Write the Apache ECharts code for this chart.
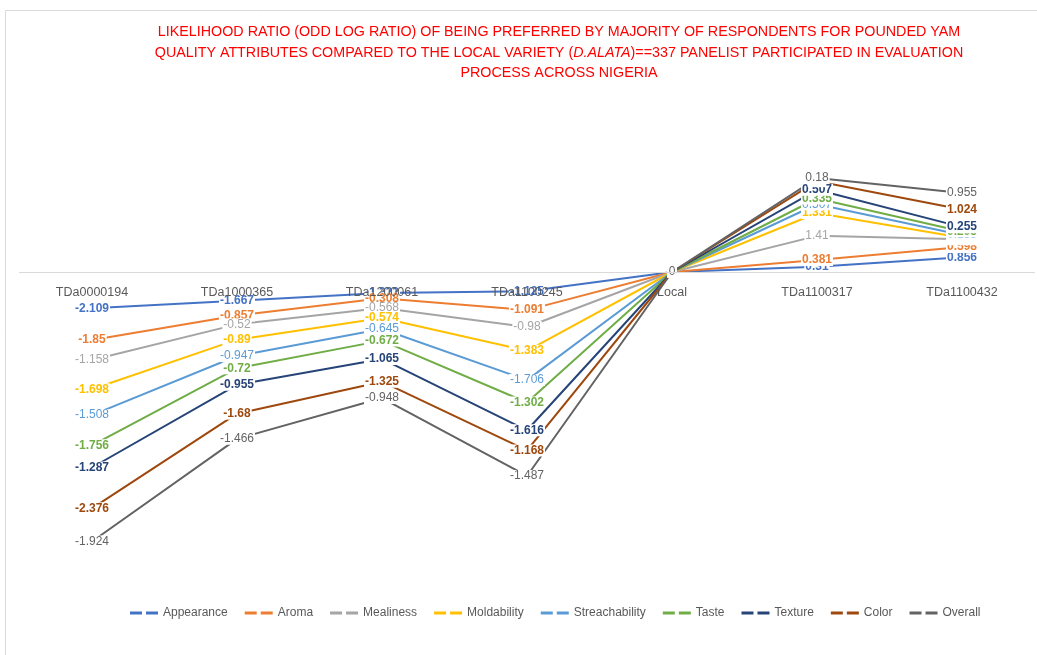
<!DOCTYPE html>
<html><head><meta charset="utf-8">
<script src="https://cdn.jsdelivr.net/npm/echarts@6/dist/echarts.min.js"></script>
<style>html,body{margin:0;padding:0;background:#fff}#c{width:1037px;height:655px}</style>
</head><body><div id="c"></div>
<script>
var categories = ['TDa0000194','TDa1000365','TDa1200061','TDa1100245','Local','TDa1100317','TDa1100432'];
var appearance     = [-2.109, -1.667, -1.222, -1.125, 0, 0.31,  0.856];
var aroma          = [-1.85,  -0.857, -0.308, -1.091, 0, 0.381, 0.598];
var mealiness      = [-1.158, -0.52,  -0.568, -0.98,  0, 1.41,  0.455];
var moldability    = [-1.698, -0.89,  -0.574, -1.383, 0, 1.331, 0.085];
var streachability = [-1.508, -0.947, -0.645, -1.706, 0, 0.507, 0.155];
var taste          = [-1.756, -0.72,  -0.672, -1.302, 0, 0.335, 0.205];
var texture        = [-1.287, -0.955, -1.065, -1.616, 0, 0.507, 0.255];
var color          = [-2.376, -1.68,  -1.325, -1.168, 0, 0.5,   1.024];
var overall        = [-1.924, -1.466, -0.948, -1.487, 0, 0.18,  0.955];

var seriesNames = ['Appearance','Aroma','Mealiness','Moldability','Streachability','Taste','Texture','Color','Overall'];
var seriesData = [appearance, aroma, mealiness, moldability, streachability, taste, texture, color, overall];
var palette = ['#4472C4','#ED7D31','#A5A5A5','#FFC000','#5B9BD5','#70AD47','#264478','#9E480E','#636363'];
var bold = [true,true,false,true,false,true,true,true,false];

var FONT = '"Liberation Sans Narrow","Liberation Sans",Arial,sans-serif';

var chart = echarts.init(document.getElementById('c'));
var series = seriesNames.map(function(n,i){
  return {
    name:n, type:'line', stack:'total', data:seriesData[i],
    symbol:'circle', symbolSize:2, showSymbol:true,
    lineStyle:{width:2, color:palette[i]}, itemStyle:{color:palette[i]},
    label:{show:true, position:'inside', color:palette[i], fontSize:12, fontFamily:FONT,
      fontWeight: bold[i]?'bold':'normal', backgroundColor:'#fff', padding:[0,1]},
    emphasis:{disabled:true}, animation:false
  };
});
chart.setOption({
  animation:false,
  graphic:[{type:'rect', shape:{x:5.5,y:10.5,width:1100,height:700}, style:{fill:'none', stroke:'#d9d9d9', lineWidth:1}, z:-10}],
  title:{
    text:'LIKELIHOOD RATIO (ODD LOG RATIO) OF BEING PREFERRED BY MAJORITY OF RESPONDENTS FOR POUNDED YAM\n{n|QUALITY ATTRIBUTES COMPARED TO THE LOCAL VARIETY (}{i|D.ALATA}{n|)==337 PANELIST PARTICIPATED IN EVALUATION}\nPROCESS ACROSS NIGERIA',
    left:554, top:17, textAlign:'center',
    textStyle:{color:'#FF0000', fontSize:14.3, fontFamily:FONT, fontWeight:'normal', lineHeight:20.5,
      rich:{n:{color:'#FF0000', fontSize:14.3, fontFamily:FONT, lineHeight:20.5},
            i:{color:'#FF0000', fontSize:14.3, fontFamily:FONT, fontStyle:'italic', lineHeight:20.5}}}
  },
  legend:{
    data:seriesNames, top:602, left:125, itemGap:17, itemWidth:28, itemHeight:3,
    icon:'path://M0,0h12v3h-12z M16,0h12v3h-12z',
    textStyle:{color:'#595959', fontSize:12, fontFamily:FONT}
  },
  grid:{left:19.5, right:2.5, top:134.4, height:447.2},
  xAxis:{type:'category', data:categories, boundaryGap:true, z:10, position:'bottom', offset:-309.6,
    axisLine:{onZero:false, lineStyle:{color:'#d9d9d9', width:1}},
    axisTick:{show:false},
    axisLabel:{color:'#595959', fontSize:12.5, fontFamily:FONT, margin:14}},
  yAxis:{type:'value', min:-18, max:8, show:false, splitLine:{show:false}},
  series:series
});
</script></body></html>
